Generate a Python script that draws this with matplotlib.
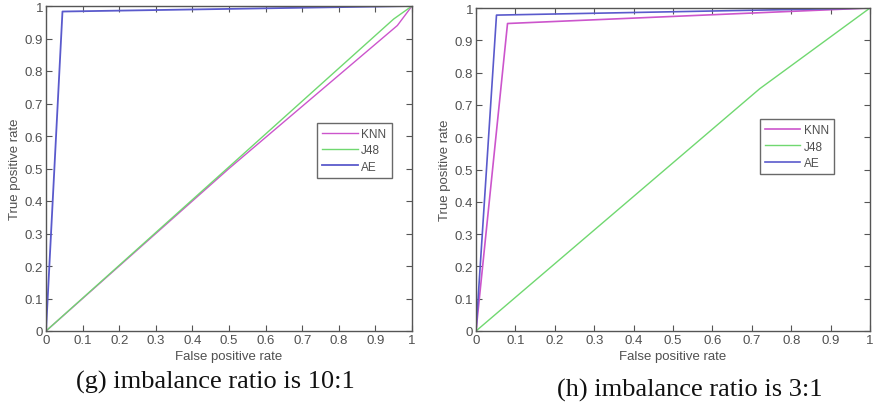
import matplotlib
matplotlib.use("Agg")
import matplotlib.pyplot as plt

W, H = 874, 406
DPI = 100

labels = ["KNN", "J48", "AE"]
colors = ["#cc55cc", "#70d870", "#5a5acc"]

# panel (g): imbalance ratio 10:1
g_knn_fpr = [0, 0.5, 0.96, 1]
g_knn_tpr = [0, 0.5, 0.94, 1]
g_j48_fpr = [0, 0.5, 0.95, 1]
g_j48_tpr = [0, 0.505, 0.96, 1]
g_ae_fpr = [0, 0.045, 1]
g_ae_tpr = [0, 0.983, 1]

# panel (h): imbalance ratio 3:1
h_knn_fpr = [0, 0.08, 1]
h_knn_tpr = [0, 0.952, 1]
h_j48_fpr = [0, 0.72, 1]
h_j48_tpr = [0, 0.75, 1]
h_ae_fpr = [0, 0.052, 1]
h_ae_tpr = [0, 0.978, 1]

ticks = [0, 0.1, 0.2, 0.3, 0.4, 0.5, 0.6, 0.7, 0.8, 0.9, 1]
tick_labels = ["0", "0.1", "0.2", "0.3", "0.4", "0.5", "0.6", "0.7", "0.8", "0.9", "1"]
captions = ["(g) imbalance ratio is 10:1", "(h) imbalance ratio is 3:1"]

plt.rcParams["font.family"] = ["Liberation Sans", "DejaVu Sans"]

fig = plt.figure(figsize=(W / DPI, H / DPI), dpi=DPI)
fig.patch.set_facecolor("white")


def px_axes(x0, y0, x1, y1):
    return fig.add_axes([x0 / W, 1 - y1 / H, (x1 - x0) / W, (y1 - y0) / H])


def style(ax, legend_bbox):
    ax.set_xlim(0, 1)
    ax.set_ylim(0, 1)
    ax.set_xticks(ticks)
    ax.set_yticks(ticks)
    ax.set_xticklabels(tick_labels)
    ax.set_yticklabels(tick_labels)
    ax.tick_params(direction="in", top=True, right=True, length=4, width=0.8,
                   colors="#555555", labelsize=9.5, labelcolor="#505050", pad=2)
    for s in ax.spines.values():
        s.set_color("#555555")
        s.set_linewidth(1.0)
    ax.set_xlabel("False positive rate", fontsize=9.5, color="#505050", labelpad=3)
    ax.set_ylabel("True positive rate", fontsize=9.5, color="#505050", labelpad=3)
    leg = ax.legend(loc="upper left", bbox_to_anchor=legend_bbox, fontsize=8.5,
                    frameon=True, fancybox=False, handlelength=3.0,
                    borderpad=0.45, labelspacing=0.35, handletextpad=0.3,
                    borderaxespad=0)
    leg.get_frame().set_edgecolor("#444444")
    leg.get_frame().set_linewidth(1.0)
    for t in leg.get_texts():
        t.set_color("#505050")


ax1 = px_axes(46, 7, 412, 332)
ax1.plot(g_knn_fpr, g_knn_tpr, color=colors[0], lw=1.0, label=labels[0])
ax1.plot(g_j48_fpr, g_j48_tpr, color=colors[1], lw=1.0, label=labels[1])
ax1.plot(g_ae_fpr, g_ae_tpr, color=colors[2], lw=1.3, label=labels[2])
style(ax1, (0.74, 0.64))

ax2 = px_axes(476, 9, 870, 332)
ax2.plot(h_knn_fpr, h_knn_tpr, color=colors[0], lw=1.2, label=labels[0])
ax2.plot(h_j48_fpr, h_j48_tpr, color=colors[1], lw=1.0, label=labels[1])
ax2.plot(h_ae_fpr, h_ae_tpr, color=colors[2], lw=1.2, label=labels[2])
style(ax2, (0.72, 0.656))

fig.text(215 / W, 1 - 382 / H, captions[0], fontsize=19, family="Liberation Serif",
         ha="center", va="center", color="#111111")
fig.text(690 / W, 1 - 390 / H, captions[1], fontsize=19, family="Liberation Serif",
         ha="center", va="center", color="#111111")

fig.savefig("out.png", dpi=DPI, facecolor="white")
